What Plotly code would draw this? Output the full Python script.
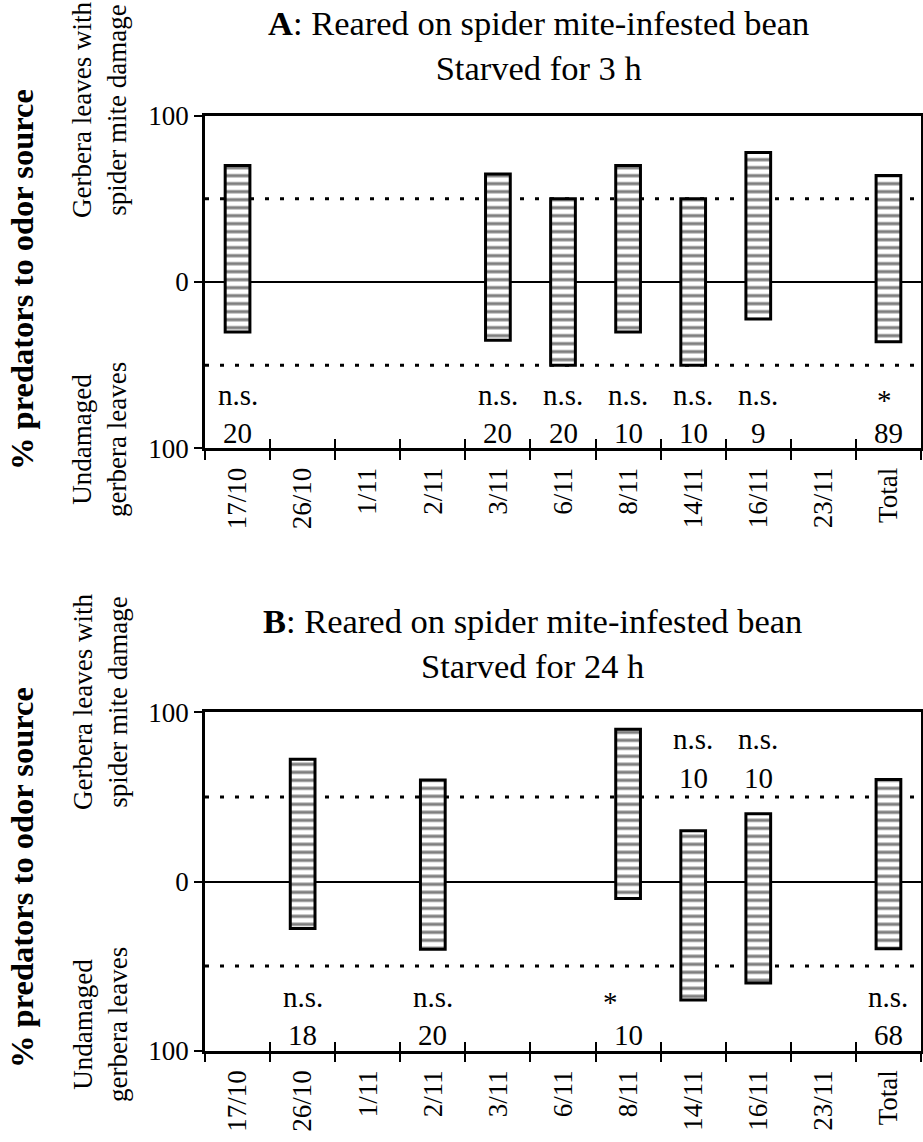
import plotly.graph_objects as go

# ---------------- data ----------------
categories = ["17/10", "26/10", "1/11", "2/11", "3/11", "6/11", "8/11",
              "14/11", "16/11", "23/11", "Total"]

# Panel A: starved 3 h  (% to damaged leaves / % to undamaged leaves)
a_damaged = [70, None, None, None, 65, 50, 70, 50, 77.8, None, 64]
a_undamaged = [30, None, None, None, 35, 50, 30, 50, 22.2, None, 36]
a_sig = ["n.s.", "", "", "", "n.s.", "n.s.", "n.s.", "n.s.", "n.s.", "", "*"]
a_n = [20, None, None, None, 20, 20, 10, 10, 9, None, 89]

# Panel B: starved 24 h
b_damaged = [None, 72.2, None, 60, None, None, 90, 30, 40, None, 60.3]
b_undamaged = [None, 27.8, None, 40, None, None, 10, 70, 60, None, 39.7]
b_sig = ["", "n.s.", "", "n.s.", "", "", "*", "n.s.", "n.s.", "", "n.s."]
b_n = [None, 18, None, 20, None, None, 10, 10, 10, None, 68]

y_tickvals = [-100, 0, 100]
y_ticktext = ["100", "0", "100"]

titles = ["<b>A</b>: Reared on spider mite-infested bean<br>Starved for 3 h",
          "<b>B</b>: Reared on spider mite-infested bean<br>Starved for 24 h"]
y_title = "<b>% predators to odor source</b>"
upper_label = "Gerbera leaves with<br>spider mite damage"
lower_label = "Undamaged<br>gerbera leaves"

# ---------------- layout helpers ----------------
W, H = 923, 1142
ML, MR = 205, 2
PW = W - ML - MR
FONT = "Liberation Serif, Times New Roman, Times, serif"


def px_x(px):
    return (px - ML) / PW


def px_y(py):
    return 1 - py / H


panels = [
    dict(dam=a_damaged, und=a_undamaged, sig=a_sig, n=a_n, title=titles[0],
         top=115.7, bot=448.3, title_y=46, title_x=538, ytitle_y=280,
         up_y=110, low_y=440, xa="x", ya="y", xo="x3", star_dx=-4),
    dict(dam=b_damaged, und=b_undamaged, sig=b_sig, n=b_n, title=titles[1],
         top=712.3, bot=1050.7, title_y=643, title_x=532, ytitle_y=878,
         up_y=702, low_y=1025, xa="x2", ya="y2", xo="x4", star_dx=-18),
]

fig = go.Figure()
annotations = []
shapes = []

for i, p in enumerate(panels):
    base = [(-u if u is not None else None) for u in p["und"]]
    height = [(d + u if d is not None else None) for d, u in zip(p["dam"], p["und"])]
    fig.add_trace(go.Bar(
        x=categories, y=height, base=base, width=0.38,
        xaxis=p["xa"], yaxis=p["ya"], showlegend=False,
        marker=dict(color="white",
                    line=dict(color="black", width=3),
                    pattern=dict(shape="-", fgcolor="black", bgcolor="white",
                                 size=8, solidity=0.4, fillmode="overlay")),
    ))
    # invisible trace carrying the categories for the overlay (inside ticks) axis
    fig.add_trace(go.Scatter(x=categories, y=[None] * len(categories),
                             xaxis=p["xo"], yaxis=p["ya"], showlegend=False,
                             hoverinfo="skip", mode="markers"))

    # labels: significance and number of replicates
    for c, s, n, u in zip(categories, p["sig"], p["n"], p["und"]):
        above = u is not None and u > 55
        sig_y, n_y = (84, 61) if above else (-68, -91)
        if s:
            annotations.append(dict(
                x=c, y=sig_y, xref=p["xa"], yref=p["ya"], text=s, showarrow=False,
                font=dict(family=FONT, size=29, color="black"),
                yshift=-5 if s == "*" else 0,
                xshift=p["star_dx"] if s == "*" else 0))
        if n is not None:
            annotations.append(dict(
                x=c, y=n_y, xref=p["xa"], yref=p["ya"], text=str(n), showarrow=False,
                font=dict(family=FONT, size=29, color="black")))

    # reference lines at 50 %
    for yv in (50, -50):
        shapes.append(dict(type="line", xref=p["xa"] + " domain", x0=0, x1=1,
                           yref=p["ya"], y0=yv, y1=yv, layer="below",
                           line=dict(color="black", width=3, dash="4px,11px")))

    # title
    annotations.append(dict(x=px_x(p["title_x"]), y=px_y(p["title_y"]), xref="paper",
                            yref="paper", text=p["title"], showarrow=False,
                            xanchor="center", yanchor="middle",
                            font=dict(family=FONT, size=34.5, color="black")))
    # y titles
    annotations.append(dict(x=px_x(22), y=px_y(p["ytitle_y"]), xref="paper",
                            yref="paper", text=y_title, showarrow=False,
                            textangle=-90, xanchor="center", yanchor="middle",
                            font=dict(family=FONT, size=32.5, color="black")))
    annotations.append(dict(x=px_x(100), y=px_y(p["up_y"]), xref="paper",
                            yref="paper", text=upper_label, showarrow=False,
                            textangle=-90, xanchor="center", yanchor="middle",
                            font=dict(family=FONT, size=27, color="black")))
    annotations.append(dict(x=px_x(100), y=px_y(p["low_y"]), xref="paper",
                            yref="paper", text=lower_label, showarrow=False,
                            textangle=-90, xanchor="center", yanchor="middle",
                            font=dict(family=FONT, size=27, color="black")))

xcommon = dict(type="category", categoryorder="array", categoryarray=categories,
               range=[-0.5, len(categories) - 0.5], tickson="boundaries",
               showgrid=False, zeroline=False, automargin=False)

layout = dict(
    width=W, height=H,
    margin=dict(l=ML, r=MR, t=0, b=0, pad=0, autoexpand=False),
    paper_bgcolor="white", plot_bgcolor="white",
    font=dict(family=FONT, color="black"),
    annotations=annotations, shapes=shapes, bargap=0.6,
)

for i, p in enumerate(panels):
    dom = [px_y(p["bot"]), px_y(p["top"])]
    xa_name = "xaxis" if i == 0 else "xaxis2"
    ya_name = "yaxis" if i == 0 else "yaxis2"
    xo_name = "xaxis3" if i == 0 else "xaxis4"
    layout[xa_name] = dict(**xcommon, anchor=p["ya"], ticks="outside", ticklen=9,
                           tickwidth=2, tickcolor="black", tickangle=-90,
                           showline=True, linewidth=2.5, linecolor="black", mirror=True,
                           tickfont=dict(family=FONT, size=27, color="black"),
                           ticklabelstandoff=6)
    layout[xo_name] = dict(**xcommon, anchor=p["ya"], overlaying=p["xa"], ticks="inside",
                           ticklen=9, tickwidth=2, tickcolor="black",
                           showticklabels=False, showline=False)
    layout[ya_name] = dict(domain=dom, anchor=p["xa"], range=[-100, 100],
                           tickvals=y_tickvals, ticktext=y_ticktext, automargin=False,
                           ticks="outside", ticklen=8, tickwidth=2, tickcolor="black",
                           showline=True, linewidth=2.5, linecolor="black", mirror=True,
                           showgrid=False, zeroline=True, zerolinecolor="black",
                           zerolinewidth=1.8,
                           tickfont=dict(family=FONT, size=27, color="black"))

fig.update_layout(**layout)
fig.write_html("out.html")
